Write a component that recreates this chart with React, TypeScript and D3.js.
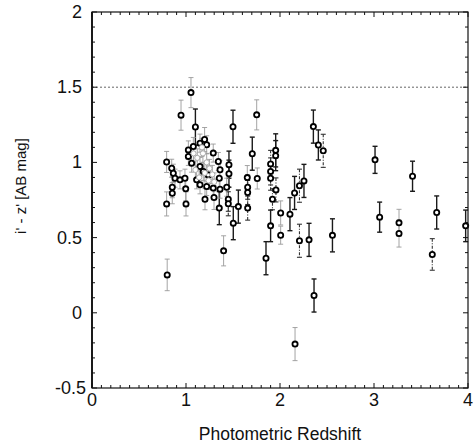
import React from 'react';
import * as d3 from 'd3';

// Photometric redshift of each object
const redshift = [
  1.053, 0.947, 1.100, 1.500, 1.752, 1.198, 1.457, 1.457, 1.705, 1.652,
  1.758, 1.954, 1.954, 1.900, 1.900, 1.900, 1.957, 1.920, 1.354, 1.450,
  1.450, 1.557, 1.503, 1.656, 1.656, 1.656, 2.007, 1.900, 2.007, 2.106,
  2.155, 2.207, 2.255, 1.400, 1.851, 2.207, 2.309, 2.558, 2.355, 2.408,
  2.460, 2.362, 3.011, 3.410, 3.060, 3.266, 3.266, 3.667, 3.620, 3.975,
  2.160, 0.800,
  0.794, 0.854, 0.854, 0.794, 0.997, 1.000, 1.202, 1.298, 1.354,
  0.848, 0.865, 0.883, 0.936, 0.989, 1.025, 1.025, 1.060, 1.078, 1.149,
  1.220, 1.290, 1.344, 1.362, 1.113, 1.149, 1.220, 1.290, 1.362, 1.433,
  1.184, 1.237, 1.149,
  1.120, 1.180, 1.220, 1.250, 1.100, 1.200, 1.280, 1.140, 1.240, 1.300, 1.080, 1.170
];

// i' - z' colour [AB mag]
const colour = [
  1.464, 1.314, 1.235, 1.237, 1.316, 1.152, 0.985, 0.925, 1.058, 0.899,
  0.893, 1.080, 1.045, 0.990, 0.940, 0.895, 0.817, 0.755, 0.696, 0.755,
  0.725, 0.706, 0.596, 0.696, 0.835, 0.800, 0.664, 0.578, 0.516, 0.656,
  0.797, 0.845, 0.877, 0.412, 0.363, 0.479, 0.485, 0.515, 1.238, 1.116,
  1.077, 0.115, 1.017, 0.908, 0.636, 0.598, 0.527, 0.667, 0.388, 0.578,
  -0.208, 0.252,
  1.003, 0.835, 0.795, 0.724, 0.824, 0.724, 0.755, 0.767, 0.895,
  0.961, 0.928, 0.895, 0.884, 0.895, 1.083, 1.040, 0.995, 1.106, 1.128,
  1.117, 1.062, 1.006, 0.951, 0.884, 0.851, 0.840, 0.829, 0.822, 0.835,
  0.940, 0.917, 0.973,
  1.030, 1.060, 1.000, 0.960, 0.950, 0.930, 0.920, 0.900, 0.880, 0.870, 1.060, 1.100
];

// 1-sigma colour error
const colourErr = [
  0.10, 0.10, 0.12, 0.11, 0.10, 0.08, 0.09, 0.09, 0.11, 0.08,
  0.07, 0.11, 0.10, 0.09, 0.09, 0.08, 0.08, 0.07, 0.11, 0.08,
  0.08, 0.11, 0.11, 0.08, 0.08, 0.08, 0.08, 0.105, 0.06, 0.11,
  0.11, 0.11, 0.11, 0.10, 0.11, 0.11, 0.11, 0.11, 0.11, 0.10,
  0.11, 0.11, 0.09, 0.10, 0.10, 0.09, 0.09, 0.11, 0.105, 0.105,
  0.11, 0.105,
  0.07, 0.07, 0.07, 0.08, 0.08, 0.08, 0.07, 0.08, 0.07,
  0.06, 0.06, 0.06, 0.06, 0.06, 0.06, 0.06, 0.06, 0.06, 0.06,
  0.06, 0.06, 0.06, 0.06, 0.06, 0.06, 0.06, 0.06, 0.06, 0.06,
  0.06, 0.06, 0.06,
  0.06, 0.06, 0.06, 0.06, 0.06, 0.06, 0.06, 0.06, 0.06, 0.06, 0.06, 0.06
];

// measurement class: a = solid, b = faint, c = dash-dot, d = faint object
const errClass = [
  'b', 'b', 'a', 'a', 'b', 'b', 'a', 'a', 'a', 'b',
  'b', 'a', 'a', 'c', 'c', 'c', 'c', 'c', 'a', 'c',
  'c', 'a', 'a', 'c', 'c', 'c', 'b', 'a', 'b', 'a',
  'a', 'c', 'a', 'b', 'a', 'c', 'a', 'a', 'a', 'a',
  'c', 'a', 'a', 'a', 'a', 'b', 'b', 'a', 'c', 'a',
  'b', 'b',
  'b', 'b', 'b', 'b', 'b', 'b', 'b', 'b', 'b',
  'b', 'b', 'b', 'b', 'b', 'b', 'b', 'b', 'b', 'b',
  'b', 'b', 'b', 'b', 'b', 'b', 'b', 'b', 'b', 'b',
  'b', 'b', 'b',
  'd', 'd', 'd', 'd', 'd', 'd', 'd', 'd', 'd', 'd', 'd', 'd'
];

const xTicks = [0, 1, 2, 3, 4];
const yTicks = [-0.5, 0, 0.5, 1, 1.5, 2];
const xTitle = 'Photometric Redshift';
const yTitle = "i' - z' [AB mag]";
const colourLimit = 1.5;

const FONT = '"Liberation Sans", Arial, Helvetica, sans-serif';

export default function App() {
  const W = 475;
  const H = 446;
  const x = d3.scaleLinear().domain([0, 4]).range([92, 468]);
  const y = d3.scaleLinear().domain([-0.5, 2]).range([388, 12]);
  const [x0, x1] = x.range();
  const [yb, yt] = y.range();

  const xMinor = d3.range(0, 41).map((i) => i / 10);
  const yMinor = d3.range(0, 26).map((i) => -0.5 + i / 10);

  const pts = redshift.map((z, i) => ({
    z,
    c: colour[i],
    e: colourErr[i],
    k: errClass[i],
  }));

  const barStyle = (k: string) => {
    if (k === 'a') return { stroke: '#1a1a1a', strokeWidth: 1.4, dash: undefined };
    if (k === 'c') return { stroke: '#333', strokeWidth: 1.1, dash: '3,1.5,1,1.5' };
    return { stroke: '#9a9a9a', strokeWidth: 0.9, dash: undefined };
  };

  return (
    <svg
      width={W}
      height={H}
      style={{ position: 'absolute', left: 0, top: 0, background: '#fff' }}
      fontFamily={FONT}
    >
      <rect x={0} y={0} width={W} height={H} fill="#fff" />

      {/* limit line */}
      <line
        x1={x0}
        x2={x1}
        y1={y(colourLimit)}
        y2={y(colourLimit)}
        stroke="#555"
        strokeWidth={0.9}
        strokeDasharray="2,2"
      />

      {/* error bars */}
      {pts.map((p, i) => {
        const s = barStyle(p.k);
        const px = x(p.z);
        const top = y(p.c + p.e);
        const bot = y(p.c - p.e);
        return (
          <g key={'e' + i} stroke={s.stroke} strokeWidth={s.strokeWidth}>
            <line x1={px} x2={px} y1={top} y2={bot} strokeDasharray={s.dash} />
            <line x1={px - 2.5} x2={px + 2.5} y1={top} y2={top} />
            <line x1={px - 2.5} x2={px + 2.5} y1={bot} y2={bot} />
          </g>
        );
      })}

      {/* points */}
      {pts.map((p, i) => (
        <circle
          key={'p' + i}
          cx={x(p.z)}
          cy={y(p.c)}
          r={2.6}
          fill="#fff"
          stroke={p.k === 'd' ? '#aaa' : '#000'}
          strokeWidth={p.k === 'd' ? 1 : 1.8}
        />
      ))}

      {/* frame */}
      <rect
        x={x0}
        y={yt}
        width={x1 - x0}
        height={yb - yt}
        fill="none"
        stroke="#111"
        strokeWidth={1.2}
      />
      <line x1={x0} x2={x0} y1={yt} y2={yb} stroke="#111" strokeWidth={1.8} />

      {/* x ticks bottom & top */}
      {xMinor.map((v, i) => {
        const major = Math.abs(v - Math.round(v)) < 1e-6;
        const len = major ? 5 : 3;
        return (
          <g key={'xt' + i} stroke="#111" strokeWidth={1}>
            <line x1={x(v)} x2={x(v)} y1={yb} y2={yb - len} />
            <line x1={x(v)} x2={x(v)} y1={yt} y2={yt + len} />
          </g>
        );
      })}
      {/* y ticks left & right */}
      {yMinor.map((v, i) => {
        const major = Math.abs(v * 2 - Math.round(v * 2)) < 1e-6;
        const len = major ? 5 : 3;
        return (
          <g key={'yt' + i} stroke="#111" strokeWidth={1}>
            <line x1={x0} x2={x0 + len} y1={y(v)} y2={y(v)} />
            <line x1={x1} x2={x1 - len} y1={y(v)} y2={y(v)} />
          </g>
        );
      })}

      {/* tick labels */}
      {xTicks.map((v) => (
        <text key={'xl' + v} x={x(v)} y={406} textAnchor="middle" fontSize={18} fill="#111">
          {v}
        </text>
      ))}
      {yTicks.map((v) => (
        <text
          key={'yl' + v}
          x={v === -0.5 ? 86 : 82}
          y={y(v)}
          textAnchor="end"
          dominantBaseline="central"
          fontSize={18}
          fill="#111"
        >
          {v}
        </text>
      ))}

      {/* axis titles */}
      <text x={(x0 + x1) / 2} y={440} textAnchor="middle" fontSize={17.5} fill="#111">
        {xTitle}
      </text>
      <text
        transform={`translate(26, 186) rotate(-90)`}
        textAnchor="middle"
        fontSize={15}
        fill="#111"
      >
        {yTitle}
      </text>
    </svg>
  );
}
